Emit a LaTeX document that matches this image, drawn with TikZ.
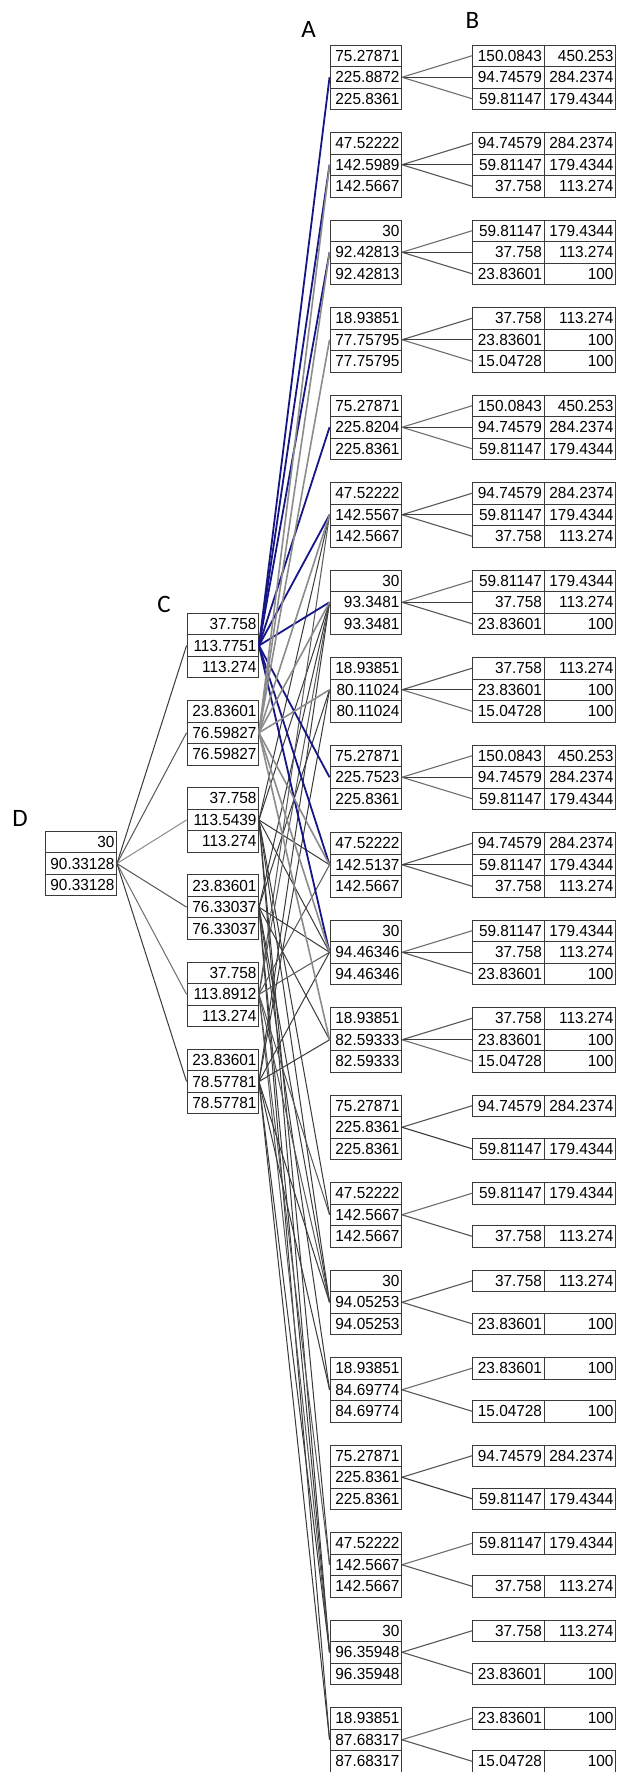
\documentclass[tikz,border=0pt]{standalone}
\usepackage{fontspec}
\newfontfamily\numfont[FakeStretch=0.96]{Liberation Sans}
\newfontfamily\lblfont{Carlito}
\definecolor{boxcol}{HTML}{3A3A3A}
\definecolor{navyline}{RGB}{22,22,135}
\definecolor{grayline}{HTML}{8C8C8C}
\definecolor{darkline}{HTML}{3A3A3A}
\definecolor{midline}{HTML}{575757}
\definecolor{lightline}{HTML}{6E6E6E}

% one row of a B box: group, row, two values, colour of its connector
\newcommand\mkBrow[5]{%
  \pgfmathsetmacro\yy{45+87.5*(#1-1)+10.75+21.5*(#2-1)}%
  \node[cell] (b#1r#2l) at (508.25,\yy) {#3};%
  \node[cell] (b#1r#2r) at (579.75,\yy) {#4};%
  \draw[abline,draw=#5] (a#1m.east) -- (b#1r#2l.west);%
}

\begin{document}
\begin{tikzpicture}[x=1pt,y=-1pt,
  cell/.style={draw=boxcol, line width=0.9pt, minimum height=21.5pt,
    inner xsep=2pt, inner ysep=0pt, text width=67.5pt, align=right,
    font=\numfont\fontsize{16}{16}\selectfont},
  lbl/.style={font=\lblfont\fontsize{25}{25}\selectfont, inner sep=0pt},
  abline/.style={line width=1.1pt},
  dcline/.style={line width=1pt},
  bluelink/.style={draw=navyline, line width=1.8pt},
  graylink/.style={draw=grayline, line width=1.6pt},
  darklink/.style={draw=darkline, line width=1pt},
  midlink/.style={draw=midline, line width=1pt}]

\fill[white] (0,0) rectangle (616,1772);
\useasboundingbox (0,0) rectangle (616,1772);

% column headings
\node[lbl] (labA) at (308.5,29) {A};
\node[lbl] (labB) at (472.5,20.5) {B};
\node[lbl] (labC) at (164,604) {C};
\node[lbl] (labD) at (20,818) {D};

% D box
\node[cell] (dt) at (80.75,842.05) {30};
\node[cell] (dm) at (80.75,863.55) {90.33128};
\node[cell] (db) at (80.75,885.05) {90.33128};

% C boxes
\foreach \i/\t/\m/\b in {1/37.758/113.7751/113.274, 2/23.83601/76.59827/76.59827,
    3/37.758/113.5439/113.274, 4/23.83601/76.33037/76.33037,
    5/37.758/113.8912/113.274, 6/23.83601/78.57781/78.57781}{
  \pgfmathsetmacro\ytop{613.3+87.2*(\i-1)}
  \node[cell] (c\i t) at (222.75,\ytop+10.75) {\t};
  \node[cell] (c\i m) at (222.75,\ytop+32.25) {\m};
  \node[cell] (c\i b) at (222.75,\ytop+53.75) {\b};
}

% A boxes
\foreach \k/\t/\m/\b in {1/75.27871/225.8872/225.8361, 2/47.52222/142.5989/142.5667,
    3/30/92.42813/92.42813, 4/18.93851/77.75795/77.75795,
    5/75.27871/225.8204/225.8361, 6/47.52222/142.5567/142.5667,
    7/30/93.3481/93.3481, 8/18.93851/80.11024/80.11024,
    9/75.27871/225.7523/225.8361, 10/47.52222/142.5137/142.5667,
    11/30/94.46346/94.46346, 12/18.93851/82.59333/82.59333,
    13/75.27871/225.8361/225.8361, 14/47.52222/142.5667/142.5667,
    15/30/94.05253/94.05253, 16/18.93851/84.69774/84.69774,
    17/75.27871/225.8361/225.8361, 18/47.52222/142.5667/142.5667,
    19/30/96.35948/96.35948, 20/18.93851/87.68317/87.68317}{
  \pgfmathsetmacro\ytop{45+87.5*(\k-1)}
  \node[cell] (a\k t) at (365.75,\ytop+10.75) {\t};
  \node[cell] (a\k m) at (365.75,\ytop+32.25) {\m};
  \node[cell] (a\k b) at (365.75,\ytop+53.75) {\b};
}

% B boxes with their connectors
\foreach \k in {1,5,9}{
  \mkBrow{\k}{1}{150.0843}{450.253}{lightline}
  \mkBrow{\k}{2}{94.74579}{284.2374}{darkline}
  \mkBrow{\k}{3}{59.81147}{179.4344}{lightline}}
\foreach \k in {2,6,10}{
  \mkBrow{\k}{1}{94.74579}{284.2374}{midline}
  \mkBrow{\k}{2}{59.81147}{179.4344}{darkline}
  \mkBrow{\k}{3}{37.758}{113.274}{midline}}
\foreach \k in {3,7,11}{
  \mkBrow{\k}{1}{59.81147}{179.4344}{lightline}
  \mkBrow{\k}{2}{37.758}{113.274}{darkline}
  \mkBrow{\k}{3}{23.83601}{100}{midline}}
\foreach \k in {4,8,12}{
  \mkBrow{\k}{1}{37.758}{113.274}{midline}
  \mkBrow{\k}{2}{23.83601}{100}{darkline}
  \mkBrow{\k}{3}{15.04728}{100}{lightline}}
\foreach \k in {13,17}{
  \mkBrow{\k}{1}{94.74579}{284.2374}{midline}
  \mkBrow{\k}{3}{59.81147}{179.4344}{darkline}}
\foreach \k in {14,18}{
  \mkBrow{\k}{1}{59.81147}{179.4344}{lightline}
  \mkBrow{\k}{3}{37.758}{113.274}{midline}}
\foreach \k in {15,19}{
  \mkBrow{\k}{1}{37.758}{113.274}{midline}
  \mkBrow{\k}{3}{23.83601}{100}{midline}}
\foreach \k in {16,20}{
  \mkBrow{\k}{1}{23.83601}{100}{lightline}
  \mkBrow{\k}{3}{15.04728}{100}{midline}}

% D to C
\draw[dcline,draw=darkline] (dm.east) -- (c1m.west);
\draw[dcline,draw=midline] (dm.east) -- (c2m.west);
\draw[dcline,draw=grayline] (dm.east) -- (c3m.west);
\draw[dcline,draw=midline] (dm.east) -- (c4m.west);
\draw[dcline,draw=lightline] (dm.east) -- (c5m.west);
\draw[dcline,draw=darkline] (dm.east) -- (c6m.west);

% C to A
\foreach \k in {6,7,10,11,14,15,18,19}{\draw[darklink] (c3m.east) -- (a\k m.west);}
\foreach \k in {7,8,11,12,15,16,19,20}{\draw[darklink] (c4m.east) -- (a\k m.west);}
\foreach \k in {6,7,10,11,14,15,18,19}{\draw[midlink] (c5m.east) -- (a\k m.west);}
\foreach \k in {7,8,11,12,15,16,19,20}{\draw[darklink] (c6m.east) -- (a\k m.west);}
\foreach \k in {1,2,3,5,6,7,9,10,11}{\draw[bluelink] (c1m.east) -- (a\k m.west);}
\foreach \k in {2,3,4,6,7,8,10,11,12}{\draw[graylink] (c2m.east) -- (a\k m.west);}
\end{tikzpicture}
\end{document}
